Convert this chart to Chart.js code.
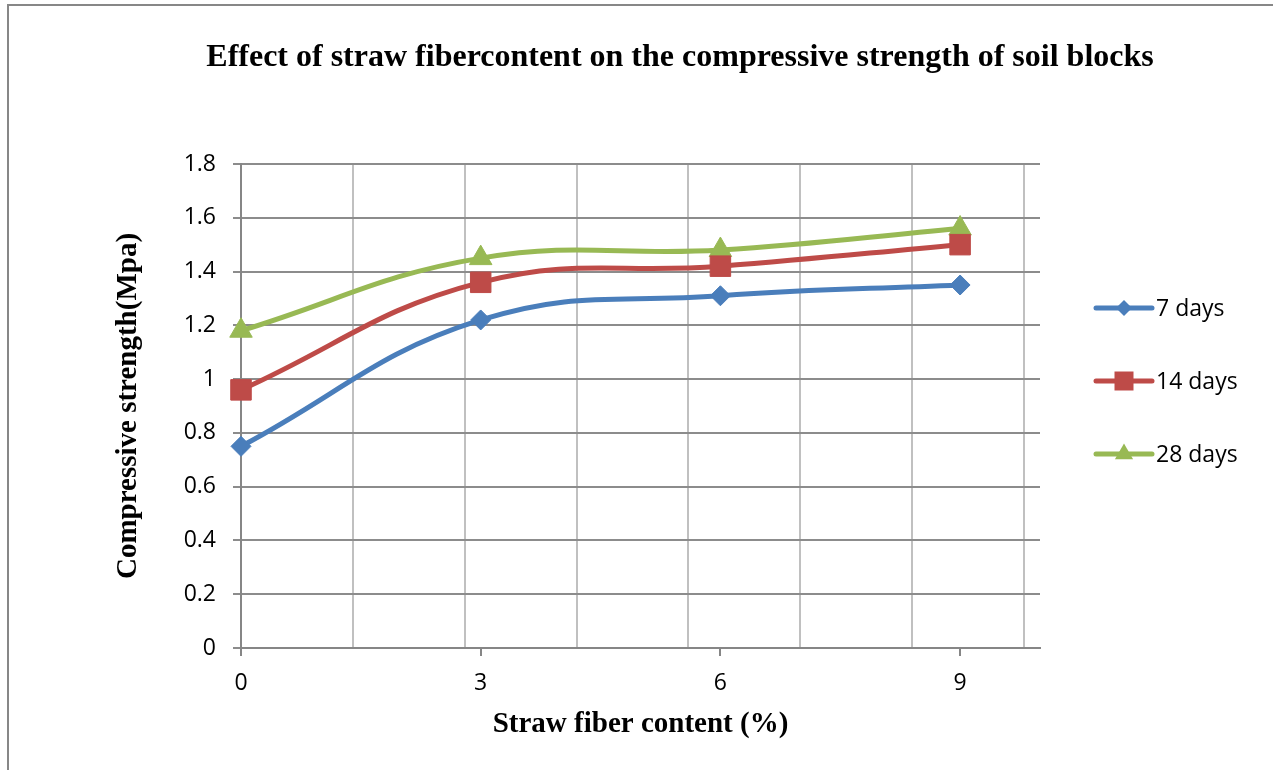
<!DOCTYPE html>
<html>
<head>
<meta charset="utf-8">
<title>Straw fiber content and compressive strength</title>
<script src="https://cdn.jsdelivr.net/npm/chart.js@4.4.1/dist/chart.umd.min.js"></script>
<style>
  html, body { margin: 0; padding: 0; background: #fff; overflow: hidden; }
  #frame {
    position: absolute; left: 7px; top: 4px;
    width: 1342px; height: 764px;
    border-left: 2px solid #878787; border-top: 2px solid #878787;
  }
  #chart { display: block; }
</style>
</head>
<body>
<div id="frame"><canvas id="chart" width="1342" height="764"></canvas></div>
<script>
// fiber content (%) and compressive strength (MPa) per curing age
const fiberContent = [0, 3, 6, 9];
const strength7 = [0.75, 1.22, 1.31, 1.35];
const strength14 = [0.96, 1.36, 1.42, 1.5];
const strength28 = [1.18, 1.45, 1.48, 1.56];
const seriesNames = ["7 days", "14 days", "28 days"];

// x axis: labelled ticks and the (unlabelled) vertical grid lines
const xLabelTicks = [0, 3, 6, 9];
const xGridTicks = [1.4, 2.8, 4.2, 5.6, 7, 8.4, 9.8];

const BLUE = "#4a7ebb";
const RED = "#be4b48";
const GREEN = "#98b954";
const TICK_FONT = { family: "'Open Sans', sans-serif", size: 23 };
const SERIF_BOLD = "'Liberation Serif', 'Times New Roman', serif";

const isLabelTick = (v) => xLabelTicks.some((t) => Math.abs(t - v) < 1e-9);
const toPoints = (ys) => ys.map((y, i) => ({ x: fiberContent[i], y: y }));

function makeSeries(label, values, color, style, radius) {
  return {
    label: label,
    data: toPoints(values),
    borderColor: color,
    backgroundColor: color,
    pointBackgroundColor: color,
    pointBorderColor: color,
    pointBorderWidth: 1,
    pointStyle: style,
    pointRadius: radius,
    borderWidth: 5,
    tension: 0.42,
    clip: false,
  };
}

// small marker for the legend (line with symbol in the middle)
function drawMarker(ctx, style, x, y, r, color) {
  ctx.fillStyle = color;
  ctx.beginPath();
  if (style === "rectRot") {
    ctx.moveTo(x - r, y);
    ctx.lineTo(x, y - r);
    ctx.lineTo(x + r, y);
    ctx.lineTo(x, y + r);
  } else if (style === "rect") {
    ctx.rect(x - r, y - r, 2 * r, 2 * r);
  } else {
    for (let k = 0; k < 3; k++) {
      const a = (k * 2 * Math.PI) / 3;
      const px = x + Math.sin(a) * r;
      const py = y - Math.cos(a) * r;
      if (k === 0) ctx.moveTo(px, py);
      else ctx.lineTo(px, py);
    }
  }
  ctx.closePath();
  ctx.fill();
}

const legendMarkerSize = [8, 9.5, 10.5];

// legend as a layout box on the right, so the title still spans the full width
const seriesLegend = {
  id: "seriesLegend",
  beforeInit(chart) {
    const box = {
      options: {},
      position: "right",
      weight: 1000,
      fullSize: false,
      isHorizontal() {
        return false;
      },
      update(maxWidth, maxHeight) {
        this.width = 311;
        this.height = maxHeight;
      },
      draw() {
        const { ctx, chartArea } = chart;
        const x0 = this.left + 56;
        chart.data.datasets.forEach((ds, i) => {
          const y = chartArea.top + 144 + i * 73;
          ctx.save();
          ctx.strokeStyle = ds.borderColor;
          ctx.lineWidth = 5;
          ctx.lineCap = "round";
          ctx.beginPath();
          ctx.moveTo(x0, y);
          ctx.lineTo(x0 + 56, y);
          ctx.stroke();
          drawMarker(ctx, ds.pointStyle, x0 + 28, y, legendMarkerSize[i], ds.pointBackgroundColor);
          ctx.fillStyle = "#000";
          ctx.font = "23px 'Open Sans', sans-serif";
          ctx.textBaseline = "middle";
          ctx.fillText(ds.label, x0 + 60, y + 1);
          ctx.restore();
        });
      },
    };
    Chart.layouts.addBox(chart, box);
  },
};

const ctx = document.getElementById("chart").getContext("2d");
new Chart(ctx, {
  type: "line",
  data: {
    datasets: [
      makeSeries(seriesNames[0], strength7, BLUE, "rectRot", 10),
      makeSeries(seriesNames[1], strength14, RED, "rect", 14.5),
      makeSeries(seriesNames[2], strength28, GREEN, "triangle", 13),
    ],
  },
  options: {
    responsive: false,
    animation: false,
    layout: { padding: 0 },
    scales: {
      x: {
        type: "linear",
        min: 0,
        max: 10,
        afterBuildTicks: (scale) => {
          scale.ticks = [...xLabelTicks, ...xGridTicks]
            .sort((a, b) => a - b)
            .map((v) => ({ value: v }));
        },
        afterFit: (scale) => {
          scale.height = 122;
        },
        grid: {
          color: (c) => (c.tick && !isLabelTick(c.tick.value) ? "#c0c0c0" : "rgba(0,0,0,0)"),
          tickColor: (c) => (c.tick && isLabelTick(c.tick.value) ? "#868686" : "rgba(0,0,0,0)"),
          lineWidth: 2,
          tickWidth: 2,
          tickLength: 8,
        },
        border: { color: "#868686", width: 2 },
        ticks: {
          autoSkip: false,
          maxRotation: 0,
          padding: 14,
          color: "#000",
          font: TICK_FONT,
          callback: (v) => (isLabelTick(v) ? String(v) : ""),
        },
        title: {
          display: true,
          text: "Straw fiber content (%)",
          color: "#000",
          font: { family: SERIF_BOLD, weight: "bold", size: 29 },
          padding: { top: 0, bottom: 28 },
        },
      },
      y: {
        min: 0,
        max: 1.8,
        afterFit: (scale) => {
          scale.width = 232;
        },
        grid: { color: "#8c8c8c", lineWidth: 2, tickLength: 8 },
        border: { color: "#868686", width: 2 },
        ticks: {
          stepSize: 0.2,
          padding: 17,
          color: "#000",
          font: TICK_FONT,
          callback: (v) => String(Math.round(v * 10) / 10),
        },
        title: {
          display: true,
          text: "Compressive strength(Mpa)",
          color: "#000",
          font: { family: SERIF_BOLD, weight: "bold", size: 29 },
          padding: { top: 102.6, bottom: 0 },
        },
      },
    },
    plugins: {
      title: {
        display: true,
        text: "Effect of straw fibercontent on the compressive strength of soil blocks",
        color: "#000",
        font: { family: SERIF_BOLD, weight: "bold", size: 32 },
        padding: { top: 33, bottom: 86.6 },
      },
      legend: { display: false },
      tooltip: { enabled: false },
    },
  },
  plugins: [seriesLegend],
});
</script>
</body>
</html>
